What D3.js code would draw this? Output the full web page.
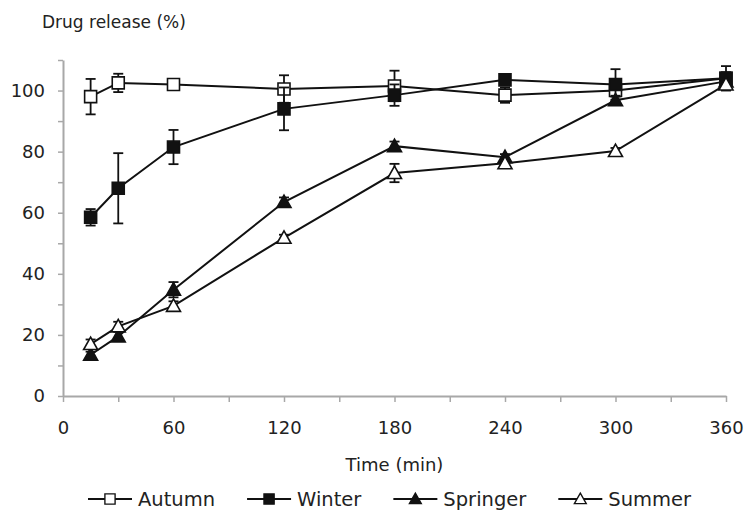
<!DOCTYPE html>
<html>
<head>
<meta charset="utf-8">
<script src="https://cdn.jsdelivr.net/npm/d3@7"></script>
<style>
  body { margin: 0; background: #fff; }
  text { font-family: "DejaVu Sans", Verdana, sans-serif; fill: #222; }
</style>
</head>
<body>
<div id="chart_container"></div>
<script>
// time points (min)
var times = [15, 30, 60, 120, 180, 240, 300, 360];
var seriesNames = ["Autumn", "Winter", "Springer", "Summer"];
// mean release (%)
var autumn   = [98, 102.5, 102, 100.5, 101.5, 98.5, 100, 104];
var winter   = [58.5, 68, 81.5, 94, 98.5, 103.5, 102, 104];
var springer = [13.5, 19.5, 34.8, 63.5, 81.8, 78.2, 96.8, 103];
var summer   = [17, 22.8, 29.5, 51.8, 73, 76.2, 80.2, 102];
// error bars (+/-)
var autumnErr   = [5.8, 3, 0.8, 4.5, 5, 2.5, 2, 2];
var winterErr   = [2.7, 11.5, 5.6, 7, 3.5, 1.5, 5, 4];
var springerErr = [1, 1.5, 2.5, 1.5, 1.5, 1, 1.5, 1];
var summerErr   = [1.5, 1.5, 1.5, 1, 3, 1, 1, 1];
var xTicks = [0, 30, 60, 90, 120, 150, 180, 210, 240, 270, 300, 330, 360];
var yTicks = [0, 10, 20, 30, 40, 50, 60, 70, 80, 90, 100, 110];

var width = 749, height = 510;
var svg = d3.select("#chart_container").append("svg")
  .attr("width", width)
  .attr("height", height);

var x = d3.scaleLinear().domain([0, 360]).range([63, 726]);
var y = d3.scaleLinear().domain([0, 110]).range([396, 60]);

var axisColor = "#a8a8a8";

// x axis
var xAxis = svg.append("g")
  .attr("transform", "translate(0," + y(0) + ")")
  .call(d3.axisBottom(x).tickValues(xTicks).tickSize(6).tickSizeOuter(0)
    .tickFormat(function(d) { return d % 60 == 0 ? d : ""; }));
xAxis.select(".domain").attr("stroke", axisColor).attr("stroke-width", 2);
xAxis.selectAll(".tick line").attr("stroke", axisColor).attr("stroke-width", 1.5);
xAxis.selectAll(".tick text").attr("y", 38).attr("dy", 0)
  .style("font-size", "18px").style("font-family", "DejaVu Sans, Verdana, sans-serif").attr("fill", "#222");

// y axis
var yAxis = svg.append("g")
  .attr("transform", "translate(" + x(0) + ",0)")
  .call(d3.axisLeft(y).tickValues(yTicks).tickSize(5).tickSizeOuter(0).tickPadding(13)
    .tickFormat(function(d) { return (d % 20 == 0 && d <= 100) ? d : ""; }));
yAxis.select(".domain").attr("stroke", axisColor).attr("stroke-width", 2);
yAxis.selectAll(".tick line").attr("stroke", axisColor).attr("stroke-width", 1.5);
yAxis.selectAll(".tick text")
  .style("font-size", "18px").style("font-family", "DejaVu Sans, Verdana, sans-serif").attr("fill", "#222");

// axis titles
svg.append("text").attr("x", 42).attr("y", 28)
  .style("font-size", "17px").text("Drug release (%)");
svg.append("text").attr("x", (x(0) + x(360)) / 2).attr("y", 471)
  .attr("text-anchor", "middle")
  .style("font-size", "18px").text("Time (min)");

var allSeries = [
  { name: seriesNames[0], values: autumn, errs: autumnErr, shape: "square", filled: false },
  { name: seriesNames[1], values: winter, errs: winterErr, shape: "square", filled: true },
  { name: seriesNames[2], values: springer, errs: springerErr, shape: "triangle", filled: true },
  { name: seriesNames[3], values: summer, errs: summerErr, shape: "triangle", filled: false }
];

var line = d3.line()
  .x(function(d) { return x(d.t); })
  .y(function(d) { return y(d.v); });

function markerPath(shape) {
  if (shape == "square") return "M-6,-6H6V6H-6Z";
  return "M0,-7L7,5.5H-7Z";
}

allSeries.forEach(function(s) {
  var pts = times.map(function(t, i) { return { t: t, v: s.values[i], e: s.errs[i] }; });
  var g = svg.append("g");

  g.append("path")
    .attr("d", line(pts))
    .attr("fill", "none")
    .attr("stroke", "#111")
    .attr("stroke-width", 2);

  // error bars
  var eb = g.selectAll(".err").data(pts).enter().append("g");
  eb.append("line")
    .attr("x1", function(d) { return x(d.t); })
    .attr("x2", function(d) { return x(d.t); })
    .attr("y1", function(d) { return y(d.v + d.e); })
    .attr("y2", function(d) { return y(d.v - d.e); })
    .attr("stroke", "#111").attr("stroke-width", 1.8);
  [1, -1].forEach(function(sign) {
    eb.append("line")
      .attr("x1", function(d) { return x(d.t) - 5; })
      .attr("x2", function(d) { return x(d.t) + 5; })
      .attr("y1", function(d) { return y(d.v + sign * d.e); })
      .attr("y2", function(d) { return y(d.v + sign * d.e); })
      .attr("stroke", "#111").attr("stroke-width", 1.8);
  });

  g.selectAll(".mk").data(pts).enter().append("path")
    .attr("d", markerPath(s.shape))
    .attr("transform", function(d) { return "translate(" + x(d.t) + "," + y(d.v) + ")"; })
    .attr("fill", s.filled ? "#111" : "#fff")
    .attr("stroke", "#111")
    .attr("stroke-width", 1.6);
});

// legend
var legend = svg.append("g").attr("transform", "translate(0,499)");
var lx = 88;
allSeries.forEach(function(s) {
  var item = legend.append("g").attr("transform", "translate(" + lx + ",0)");
  item.append("line").attr("x1", 0).attr("x2", 44).attr("y1", 0).attr("y2", 0)
    .attr("stroke", "#111").attr("stroke-width", 2);
  item.append("path")
    .attr("d", markerPath(s.shape))
    .attr("transform", "translate(22,0) scale(0.85)")
    .attr("fill", s.filled ? "#111" : "#fff")
    .attr("stroke", "#111").attr("stroke-width", 1.6);
  var t = item.append("text").attr("x", 50).attr("y", 7)
    .style("font-size", "19.5px").text(s.name);
  lx += 50 + t.node().getComputedTextLength() + 32;
});
</script>
</body>
</html>
